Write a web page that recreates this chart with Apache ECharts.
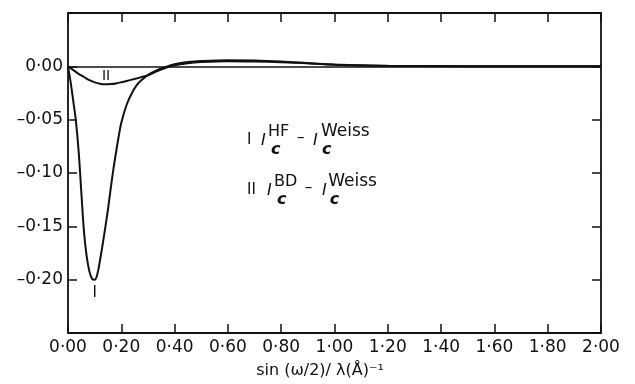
<!DOCTYPE html>
<html>
<head>
<meta charset="utf-8">
<script src="https://cdn.jsdelivr.net/npm/echarts@6/dist/echarts.min.js"></script>
<style>
  html, body { margin: 0; padding: 0; background: #fff; }
  #chart { width: 635px; height: 384px; }
</style>
</head>
<body>
<div id="chart"></div>
<script>
// curve I : I_c^HF - I_c^Weiss
const xCurveI = [0, 0.01, 0.02, 0.03, 0.04, 0.05, 0.06, 0.07, 0.08, 0.09, 0.10, 0.11, 0.12, 0.13, 0.14, 0.15, 0.16, 0.17, 0.18, 0.19, 0.20, 0.22, 0.24, 0.26, 0.28, 0.30, 0.33, 0.36, 0.40, 0.45, 0.50, 0.60, 0.70, 0.80, 0.90, 1.00, 1.10, 1.20, 1.40, 1.60, 1.80, 2.00];
const yCurveI = [0, -0.015, -0.033, -0.052, -0.080, -0.118, -0.155, -0.178, -0.192, -0.199, -0.200, -0.195, -0.182, -0.167, -0.151, -0.134, -0.115, -0.097, -0.081, -0.066, -0.053, -0.036, -0.025, -0.017, -0.012, -0.008, -0.004, -0.001, 0.002, 0.004, 0.005, 0.0058, 0.0055, 0.0045, 0.003, 0.0015, 0.0008, 0.0004, 0.0001, 0, 0, 0];

// curve II : I_c^BD - I_c^Weiss
const xCurveII = [0, 0.02, 0.04, 0.06, 0.08, 0.10, 0.12, 0.14, 0.16, 0.18, 0.20, 0.22, 0.25, 0.28, 0.30, 0.33, 0.36, 0.40, 0.45, 0.50, 0.60, 0.70, 0.80, 0.90, 1.00, 1.10, 1.20, 1.40, 1.60, 1.80, 2.00];
const yCurveII = [0, -0.0035, -0.007, -0.010, -0.013, -0.015, -0.0163, -0.0168, -0.0166, -0.016, -0.015, -0.0138, -0.0118, -0.0098, -0.0085, -0.005, -0.002, 0.001, 0.003, 0.004, 0.0048, 0.0045, 0.0038, 0.0028, 0.0017, 0.001, 0.0005, 0.0002, 0, 0, 0];

// axes
const xMin = 0, xMax = 2, xStep = 0.2;
const yMin = -0.25, yMax = 0.05, yStep = 0.05;
const xName = 'sin (ω/2)/ λ(Å)⁻¹';

const fontFamily = '"DejaVu Sans", sans-serif';
const ink = '#111';

const fmt = (v) =>
{
    const s = Math.abs(v).toFixed(2).replace('.', '·');
    return (v < -1e-9 ? '–' : '') + s;
};

const toPairs = (xs, ys) => xs.map((x, i) => [x, ys[i]]);

const chart = echarts.init(document.getElementById('chart'), null, { renderer: 'canvas' });

const axisLine = { show: true, onZero: false, lineStyle: { color: ink, width: 1.8 } };
const axisTick = { show: true, inside: true, length: 9, lineStyle: { color: ink, width: 1.5 } };

// legend text pieces (formula), placed by hand
const txt = (text, x, y, font) => ({
    type: 'text',
    x: x,
    y: y,
    style: {
        text: text,
        fill: ink,
        font: font,
        verticalAlign: 'middle',
        textVerticalAlign: 'middle'
    }
});
const reg = (size) => size + 'px ' + fontFamily;
const ital = (size) => 'italic ' + size + 'px ' + fontFamily;
const boldital = (size) => 'italic bold ' + size + 'px ' + fontFamily;

const formula = [];
const addLine = (num, sup, dy, off) =>
{
    formula.push(
        txt(num, 247, 140 + dy, reg(15)),
        txt('I', 261 + off, 141 + dy, ital(16)),
        txt(sup, 268 + off, 132 + dy, reg(16)),
        txt('c', 271 + off, 150 + dy, boldital(16)),
        txt('–', 297 + off * 1.3, 138 + dy, reg(15)),
        txt('I', 313 + off * 1.5, 141 + dy, ital(16)),
        txt('Weiss', 321 + off * 1.2, 132 + dy, reg(17)),
        txt('c', 322 + off * 1.3, 150 + dy, boldital(16))
    );
};
addLine('I', 'HF', 0, 0);
addLine('II', 'BD', 50, 6);

const option = {
    animation: false,
    backgroundColor: '#fff',
    textStyle: { fontFamily: fontFamily, color: ink },
    grid: { left: 68, right: 34, top: 13, bottom: 47 },
    xAxis: [
        {
            type: 'value',
            position: 'bottom',
            min: xMin, max: xMax, interval: xStep,
            axisLine: axisLine,
            axisTick: axisTick,
            splitLine: { show: false },
            axisLabel: { color: ink, fontSize: 17, margin: 6, formatter: fmt, fontFamily: fontFamily },
            name: xName,
            nameLocation: 'middle',
            nameGap: 30,
            nameTextStyle: { color: ink, fontSize: 16, fontFamily: fontFamily, padding: [0, 29, 0, 0] }
        },
        {
            type: 'value',
            position: 'top',
            min: xMin, max: xMax, interval: xStep,
            axisLine: axisLine,
            axisTick: axisTick,
            axisLabel: { show: false },
            splitLine: { show: false }
        }
    ],
    yAxis: [
        {
            type: 'value',
            position: 'left',
            min: yMin, max: yMax, interval: yStep,
            axisLine: axisLine,
            axisTick: axisTick,
            splitLine: { show: false },
            axisLabel: {
                color: ink, fontSize: 17, margin: 5, fontFamily: fontFamily,
                showMinLabel: false, showMaxLabel: false,
                formatter: (v) => (Math.abs(v - yMax) < 1e-9 || Math.abs(v - yMin) < 1e-9) ? '' : fmt(v)
            }
        },
        {
            type: 'value',
            position: 'right',
            min: yMin, max: yMax, interval: yStep,
            axisLine: axisLine,
            axisTick: axisTick,
            axisLabel: { show: false },
            splitLine: { show: false }
        }
    ],
    series: [
        {
            name: 'I',
            type: 'line',
            data: toPairs(xCurveI, yCurveI),
            smooth: 0.35,
            showSymbol: false,
            lineStyle: { color: ink, width: 2 },
            markLine: {
                silent: true,
                symbol: ['none', 'none'],
                label: { show: false },
                lineStyle: { color: ink, width: 1.5, type: 'solid' },
                data: [{ yAxis: 0 }]
            },
            markPoint: {
                symbol: 'circle',
                symbolSize: 0,
                label: { show: true, formatter: 'I', color: ink, fontSize: 15, offset: [0, 13], fontFamily: fontFamily },
                data: [{ coord: [0.10, -0.20] }]
            }
        },
        {
            name: 'II',
            type: 'line',
            data: toPairs(xCurveII, yCurveII),
            smooth: 0.35,
            showSymbol: false,
            lineStyle: { color: ink, width: 2 },
            markPoint: {
                symbol: 'circle',
                symbolSize: 0,
                label: { show: true, formatter: 'II', color: ink, fontSize: 14, offset: [0, -8], fontFamily: fontFamily },
                data: [{ coord: [0.143, -0.0167] }]
            }
        }
    ],
    graphic: formula
};

chart.setOption(option);
</script>
</body>
</html>
